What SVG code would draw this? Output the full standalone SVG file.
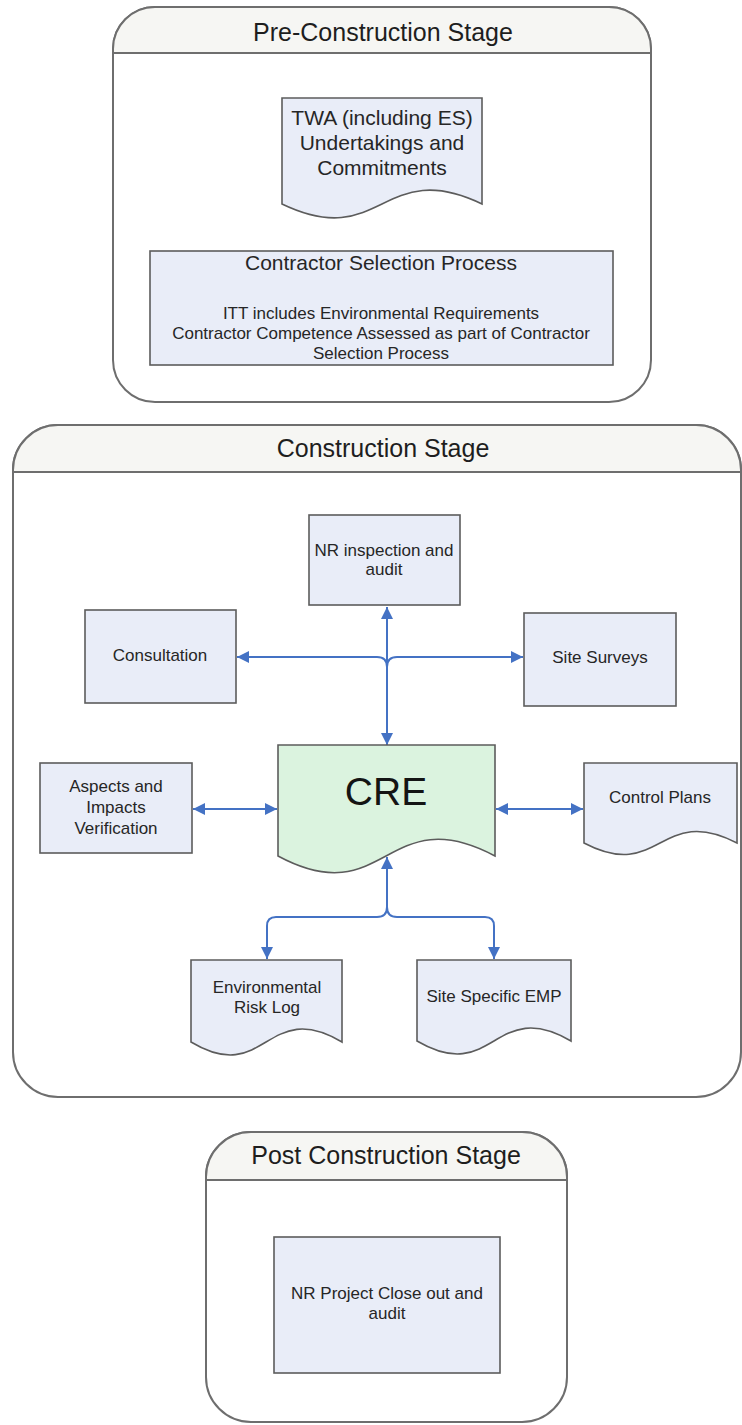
<svg xmlns="http://www.w3.org/2000/svg" width="742" height="1425" viewBox="0 0 742 1425">
<style>
.stage{fill:#ffffff;stroke:#6e6e6e;stroke-width:2}
.band{fill:#f6f6f3;stroke:#6e6e6e;stroke-width:2}
.node{fill:#e9edf8;stroke:#5c5c5c;stroke-width:1.6}
.cre{fill:#dbf3df;stroke:#5c5c5c;stroke-width:1.6}
.title{font-family:"Liberation Sans",Arial,sans-serif;font-size:25px;fill:#1e1e1e;text-anchor:middle}
.t21{font-family:"Liberation Sans",Arial,sans-serif;font-size:21px;fill:#262626;text-anchor:middle}
.t17{font-family:"Liberation Sans",Arial,sans-serif;font-size:17px;fill:#262626;text-anchor:middle}
.big{font-family:"Liberation Sans",Arial,sans-serif;font-size:39px;fill:#141414;text-anchor:middle}
.conn{fill:none;stroke:#4472c4;stroke-width:2}
</style>
<defs>
<marker id="arr" viewBox="0 0 10 10" refX="10" refY="5" markerWidth="12" markerHeight="12" markerUnits="userSpaceOnUse" orient="auto-start-reverse">
<path d="M0,0 L10,5 L0,10 Z" fill="#4472c4"/>
</marker>
</defs>

<g id="pre-construction-stage">
<rect class="stage" x="113" y="7" width="538" height="395" rx="42" ry="42"/>
<path class="band" d="M113,53 V49 A42,42 0 0 1 155,7 H609 A42,42 0 0 1 651,49 V53 Z"/>
<text class="title" x="383" y="41">Pre-Construction Stage</text>
</g>

<g id="twa">
<path class="node" d="M282,98 H482 V204 C382,156 382,252 282,204 Z"/>
<text class="t21" x="382" y="125">TWA (including ES)</text>
<text class="t21" x="382" y="150">Undertakings and</text>
<text class="t21" x="382" y="175">Commitments</text>
</g>

<g id="contractor-selection">
<rect class="node" x="150" y="251" width="463" height="114"/>
<text class="t21" x="381" y="270">Contractor Selection Process</text>
<text class="t17" x="381" y="319">ITT includes Environmental Requirements</text>
<text class="t17" x="381" y="339">Contractor Competence Assessed as part of Contractor</text>
<text class="t17" x="381" y="359">Selection Process</text>
</g>

<g id="construction-stage">
<rect class="stage" x="13" y="425" width="728" height="672" rx="45" ry="45"/>
<path class="band" d="M13,472 V470 A45,45 0 0 1 58,425 H696 A45,45 0 0 1 741,470 V472 Z"/>
<text class="title" x="383" y="457">Construction Stage</text>
</g>

<g id="connectors">
<path class="conn" d="M387,607 V745" marker-start="url(#arr)" marker-end="url(#arr)"/>
<path class="conn" d="M387,700 V667 Q387,657 377,657 H237" marker-end="url(#arr)"/>
<path class="conn" d="M387,667 Q387,657 397,657 H523" marker-end="url(#arr)"/>
<path class="conn" d="M193,809 H277" marker-start="url(#arr)" marker-end="url(#arr)"/>
<path class="conn" d="M496,809 H583" marker-start="url(#arr)" marker-end="url(#arr)"/>
<path class="conn" d="M387,857 V907 Q387,917 377,917 H276 Q267,917 267,926 V959" marker-start="url(#arr)" marker-end="url(#arr)"/>
<path class="conn" d="M387,907 Q387,917 397,917 H485 Q494,917 494,926 V959" marker-end="url(#arr)"/>
</g>

<g id="nr-inspection">
<rect class="node" x="309" y="515" width="151" height="90"/>
<text class="t17" x="384" y="556">NR inspection and</text>
<text class="t17" x="384" y="575">audit</text>
</g>

<g id="consultation">
<rect class="node" x="85" y="610" width="151" height="93"/>
<text class="t17" x="160" y="661">Consultation</text>
</g>

<g id="site-surveys">
<rect class="node" x="524" y="613" width="152" height="93"/>
<text class="t17" x="600" y="663">Site Surveys</text>
</g>

<g id="cre">
<path class="cre" d="M278,745 H495 V856 C386,798 386,914 278,856 Z"/>
<text class="big" x="386" y="805">CRE</text>
</g>

<g id="aspects">
<rect class="node" x="40" y="763" width="152" height="90"/>
<text class="t17" x="116" y="792">Aspects and</text>
<text class="t17" x="116" y="813">Impacts</text>
<text class="t17" x="116" y="834">Verification</text>
</g>

<g id="control-plans">
<path class="node" d="M584,763 H737 V843 C660,803 660,883 584,843 Z"/>
<text class="t17" x="660" y="803">Control Plans</text>
</g>

<g id="risk-log">
<path class="node" d="M191,960 H342 V1042 C266,997 266,1087 191,1042 Z"/>
<text class="t17" x="267" y="993">Environmental</text>
<text class="t17" x="267" y="1013">Risk Log</text>
</g>

<g id="site-emp">
<path class="node" d="M417,960 H571 V1041 C494,996 494,1086 417,1041 Z"/>
<text class="t17" x="494" y="1002">Site Specific EMP</text>
</g>

<g id="post-construction-stage">
<rect class="stage" x="206" y="1132" width="361" height="290" rx="45" ry="45"/>
<path class="band" d="M206,1180 V1177 A45,45 0 0 1 251,1132 H522 A45,45 0 0 1 567,1177 V1180 Z"/>
<text class="title" x="386" y="1164">Post Construction Stage</text>
</g>

<g id="nr-close-out">
<rect class="node" x="274" y="1237" width="226" height="136"/>
<text class="t17" x="387" y="1299">NR Project Close out and</text>
<text class="t17" x="387" y="1319">audit</text>
</g>
</svg>
